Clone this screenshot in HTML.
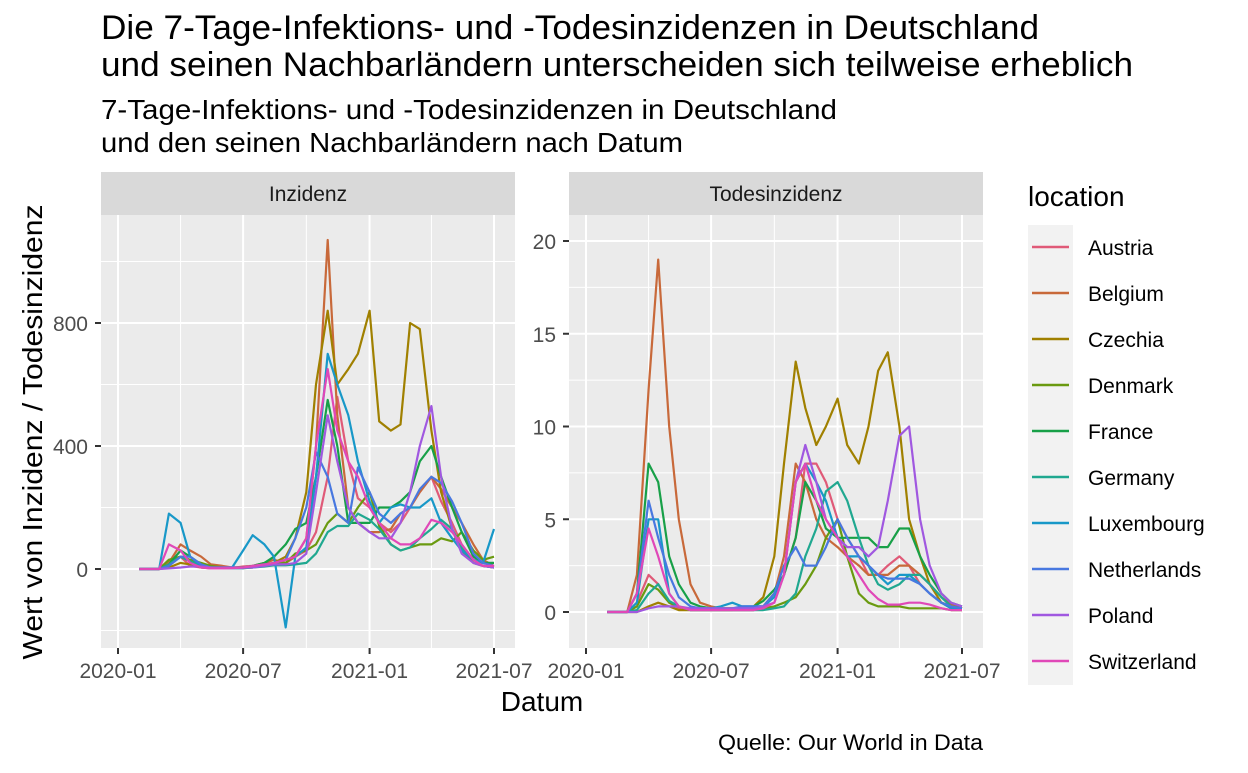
<!DOCTYPE html>
<html><head><meta charset="utf-8"><style>
body{margin:0;background:#fff;}
svg text{font-family:"Liberation Sans",sans-serif;}
</style></head><body>
<svg id="c" width="1248" height="768" xmlns="http://www.w3.org/2000/svg">
<text x="101" y="39" font-size="34" textLength="938" lengthAdjust="spacingAndGlyphs" fill="#000">Die 7-Tage-Infektions- und -Todesinzidenzen in Deutschland</text>
<text x="101" y="76" font-size="34" textLength="1032" lengthAdjust="spacingAndGlyphs" fill="#000">und seinen Nachbarländern unterscheiden sich teilweise erheblich</text>
<text x="101" y="119" font-size="28" textLength="736" lengthAdjust="spacingAndGlyphs" fill="#000">7-Tage-Infektions- und -Todesinzidenzen in Deutschland</text>
<text x="101" y="152" font-size="28" textLength="582" lengthAdjust="spacingAndGlyphs" fill="#000">und den seinen Nachbarländern nach Datum</text>
<text transform="translate(42,432) rotate(-90)" text-anchor="middle" font-size="28" textLength="455" lengthAdjust="spacingAndGlyphs">Wert von Inzidenz / Todesinzidenz</text>
<text x="542" y="711" text-anchor="middle" font-size="28">Datum</text>
<text x="983" y="750" text-anchor="end" font-size="22" textLength="265" lengthAdjust="spacingAndGlyphs">Quelle: Our World in Data</text>
<text x="1028" y="206" font-size="28">location</text>
</svg>
<script>
const dates=["2020-02-01","2020-02-15","2020-03-01","2020-03-15","2020-04-01","2020-04-15","2020-05-01","2020-05-15","2020-06-01","2020-06-15","2020-07-01","2020-07-15","2020-08-01","2020-08-15","2020-09-01","2020-09-15","2020-10-01","2020-10-15","2020-11-01","2020-11-15","2020-12-01","2020-12-15","2021-01-01","2021-01-15","2021-02-01","2021-02-15","2021-03-01","2021-03-15","2021-04-01","2021-04-15","2021-05-01","2021-05-15","2021-06-01","2021-06-15","2021-07-01"];
const locations=["Austria","Belgium","Czechia","Denmark","France","Germany","Luxembourg","Netherlands","Poland","Switzerland"];
const colors=["#E05A78","#C8693A","#A08000","#6A9A10","#18A048","#20A890","#1898C8","#4878E0","#A058E0","#E048B8"];
const incAustria=[0,0,0,30,40,10,5,2,2,3,8,10,12,15,20,40,60,120,300,560,350,230,200,150,120,150,200,250,300,220,150,80,30,10,5];
const incBelgium=[0,0,0,20,80,60,40,15,10,5,5,10,20,30,20,40,100,400,1070,500,200,150,120,120,130,180,200,250,300,260,200,150,80,30,10];
const incCzechia=[0,0,0,5,20,15,5,3,3,5,5,10,15,20,40,100,250,600,840,600,650,700,840,480,450,470,800,780,450,250,130,60,20,10,5];
const incDenmark=[0,0,0,30,40,30,20,10,5,3,3,5,20,15,20,50,60,80,150,180,150,200,250,140,80,60,70,80,80,100,90,120,60,30,40];
const incFrance=[0,0,0,15,60,40,15,5,5,5,5,10,20,40,80,130,150,300,550,400,150,150,150,200,200,220,250,350,400,300,200,120,40,20,20];
const incGermany=[0,0,0,15,40,25,10,5,3,3,3,5,8,12,12,15,20,50,120,140,140,180,160,130,80,60,70,100,130,160,130,70,30,10,5];
const incLuxembourg=[0,0,0,180,150,40,10,5,5,5,60,110,80,40,-190,40,70,300,700,600,500,350,220,150,200,210,200,200,230,150,100,60,30,20,130];
const incNetherlands=[0,0,0,10,40,40,15,5,3,3,3,8,15,20,30,100,200,380,300,180,150,330,250,180,150,180,200,260,300,280,220,150,50,20,10];
const incPoland=[0,0,0,2,5,8,8,5,5,5,5,5,10,15,15,20,50,250,500,350,200,150,120,100,100,150,250,400,530,300,130,50,20,10,5];
const incSwitzerland=[0,0,0,80,60,20,5,2,2,3,5,10,15,20,30,40,100,400,650,450,350,300,200,150,100,80,80,100,160,150,120,80,30,10,10];
const dthAustria=[0,0,0,0.5,2,1.5,0.5,0.2,0.1,0.1,0.1,0.1,0.1,0.1,0.1,0.3,1,2,4,8,8,7,5,4,3,2,2,2.5,3,2.5,1.5,1,0.5,0.3,0.2];
const dthBelgium=[0,0,0,2,12,19,10,5,1.5,0.5,0.3,0.2,0.2,0.2,0.2,0.3,1,3,8,7,5,4,3.5,3,2.5,2,2,2,2.5,2.5,2,1.5,0.8,0.4,0.2];
const dthCzechia=[0,0,0,0,0.3,0.5,0.3,0.1,0.1,0.1,0.1,0.1,0.1,0.2,0.3,0.8,3,8,13.5,11,9,10,11.5,9,8,10,13,14,10,5,3,1.5,0.5,0.3,0.2];
const dthDenmark=[0,0,0,0.3,1.5,1.2,0.5,0.3,0.1,0.1,0.1,0.1,0.1,0.1,0.1,0.2,0.3,0.5,0.8,1.5,2.5,4,5,3,1,0.5,0.3,0.3,0.3,0.2,0.2,0.2,0.2,0.1,0.1];
const dthFrance=[0,0,0,1,8,7,3,1.5,0.5,0.3,0.2,0.2,0.2,0.2,0.3,0.6,1.2,2,4,7,6,4.5,4,4,4,4,3.5,3.5,4.5,4.5,3,2,1,0.5,0.3];
const dthGermany=[0,0,0,0.1,1,1.5,0.6,0.3,0.1,0.1,0.1,0.1,0.1,0.1,0.1,0.1,0.2,0.3,1,3,4.5,6.5,7,6,4,2.5,1.5,1.2,1.5,2,2,1.5,0.8,0.3,0.2];
const dthLuxembourg=[0,0,0,0.5,5,5,1,0.3,0.1,0.2,0.2,0.3,0.5,0.3,0.3,0.3,0.8,2,7,8,7,6,4,3,3,2.5,2,1.5,2,2,1.5,1,0.5,0.2,0.2];
const dthNetherlands=[0,0,0,1,6,4,2,0.8,0.3,0.2,0.2,0.1,0.2,0.3,0.3,0.3,1,2.5,3.5,2.5,2.5,3.5,5,4,3,2.5,2,1.8,1.8,1.8,1.5,1,0.5,0.3,0.2];
const dthPoland=[0,0,0,0,0.2,0.3,0.3,0.3,0.2,0.2,0.2,0.2,0.2,0.2,0.2,0.3,0.5,2,7,9,7,5,4,3.5,3.5,3,3.5,6,9.5,10,5,2.5,1,0.5,0.3];
const dthSwitzerland=[0,0,0,1,4.5,3,1,0.3,0.1,0.1,0.1,0.1,0.1,0.1,0.1,0.2,0.5,2,7,8,6,5,4,3,2,1.2,0.7,0.4,0.4,0.5,0.5,0.4,0.2,0.1,0.1];
const incSeries=[incAustria,incBelgium,incCzechia,incDenmark,incFrance,incGermany,incLuxembourg,incNetherlands,incPoland,incSwitzerland];
const dthSeries=[dthAustria,dthBelgium,dthCzechia,dthDenmark,dthFrance,dthGermany,dthLuxembourg,dthNetherlands,dthPoland,dthSwitzerland];
const xTicks=["2020-01","2020-07","2021-01","2021-07"];
const xMinor=["2020-04","2020-10","2021-04"];
const incTicks=[0,400,800];
const incMinor=[-200,200,600,1000];
const dthTicks=[0,5,10,15,20];
const dthMinor=[2.5,7.5,12.5,17.5];

const NS="http://www.w3.org/2000/svg";
const svg=document.getElementById('c');
function mk(tag,attrs,parent){const e=document.createElementNS(NS,tag);for(const k in attrs)e.setAttribute(k,attrs[k]);(parent||svg).appendChild(e);return e;}
const T0=Date.UTC(2020,0,1),T1=Date.UTC(2021,6,1);
function dayOf(s){const p=s.split('-');return Date.UTC(+p[0],+p[1]-1,p[2]?+p[2]:1);}
const PT=215,PB=648;

function panel(name,left,label,x0,x1,yv0,yp0,yv1,yp1,series,ticks,minor){
  const g=mk('g',{});
  
  
  const xs=d=>x0+(dayOf(d)-T0)/(T1-T0)*(x1-x0);
  const ys=v=>yp0+(v-yv0)/(yv1-yv0)*(yp1-yp0);
  const bg=mk('rect',{x:left,y:PT,width:414,height:PB-PT,fill:'#EBEBEB'},g);
  
  
  const st=mk('rect',{x:left,y:172,width:414,height:43,fill:'#D9D9D9'},g);
  
  
  const stt=mk('text',{x:left+207,y:201,'text-anchor':'middle','font-size':'21',fill:'#1A1A1A'},g);
  stt.textContent=label;
  
  
  minor.forEach(v=>{const y=ys(v);if(y>PT&&y<PB)mk('line',{x1:left,x2:left+414,y1:y,y2:y,stroke:'#fff','stroke-width':1},g);});
  xMinor.forEach(d=>{const x=xs(d);mk('line',{x1:x,x2:x,y1:PT,y2:PB,stroke:'#fff','stroke-width':1},g);});
  ticks.forEach(v=>{const y=ys(v);mk('line',{x1:left,x2:left+414,y1:y,y2:y,stroke:'#fff','stroke-width':2},g);
    mk('line',{x1:left-6,x2:left,y1:y,y2:y,stroke:'#333','stroke-width':2},g);
    const t=mk('text',{x:left-13,y:y+8,'text-anchor':'end','font-size':'21',fill:'#4D4D4D'},g);t.textContent=v;
    
    });
  xTicks.forEach(d=>{const x=xs(d);mk('line',{x1:x,x2:x,y1:PT,y2:PB,stroke:'#fff','stroke-width':2},g);
    mk('line',{x1:x,x2:x,y1:PB,y2:PB+6,stroke:'#333','stroke-width':2},g);
    const t=mk('text',{x:x,y:PB+30,'text-anchor':'middle','font-size':'21',fill:'#4D4D4D'},g);t.textContent=d;
    
    });
  series.forEach((arr,i)=>{
    const pts=arr.map((v,j)=>xs(dates[j]).toFixed(1)+','+ys(v).toFixed(1)).join(' ');
    const p=mk('polyline',{points:pts,fill:'none',stroke:colors[i],'stroke-width':2.2,'stroke-linejoin':'round'},g);
    
    
  });
}
panel('inzidenz',101,'Inzidenz',118,494,0,569,800,323,incSeries,incTicks,incMinor);
panel('todesinzidenz',569,'Todesinzidenz',586,962,0,612,20,241,dthSeries,dthTicks,dthMinor);

const lg=mk('rect',{x:1028,y:225,width:45,height:460,fill:'#F2F2F2'});


locations.forEach((n,i)=>{
  const y=247+i*46;
  const l=mk('line',{x1:1032,x2:1069,y1:y,y2:y,stroke:colors[i],'stroke-width':2.4});
  
  
  const t=mk('text',{x:1088,y:y+8,'font-size':'21',fill:'#000'});
  t.textContent=n;
  
  
});
</script>
</body></html>
